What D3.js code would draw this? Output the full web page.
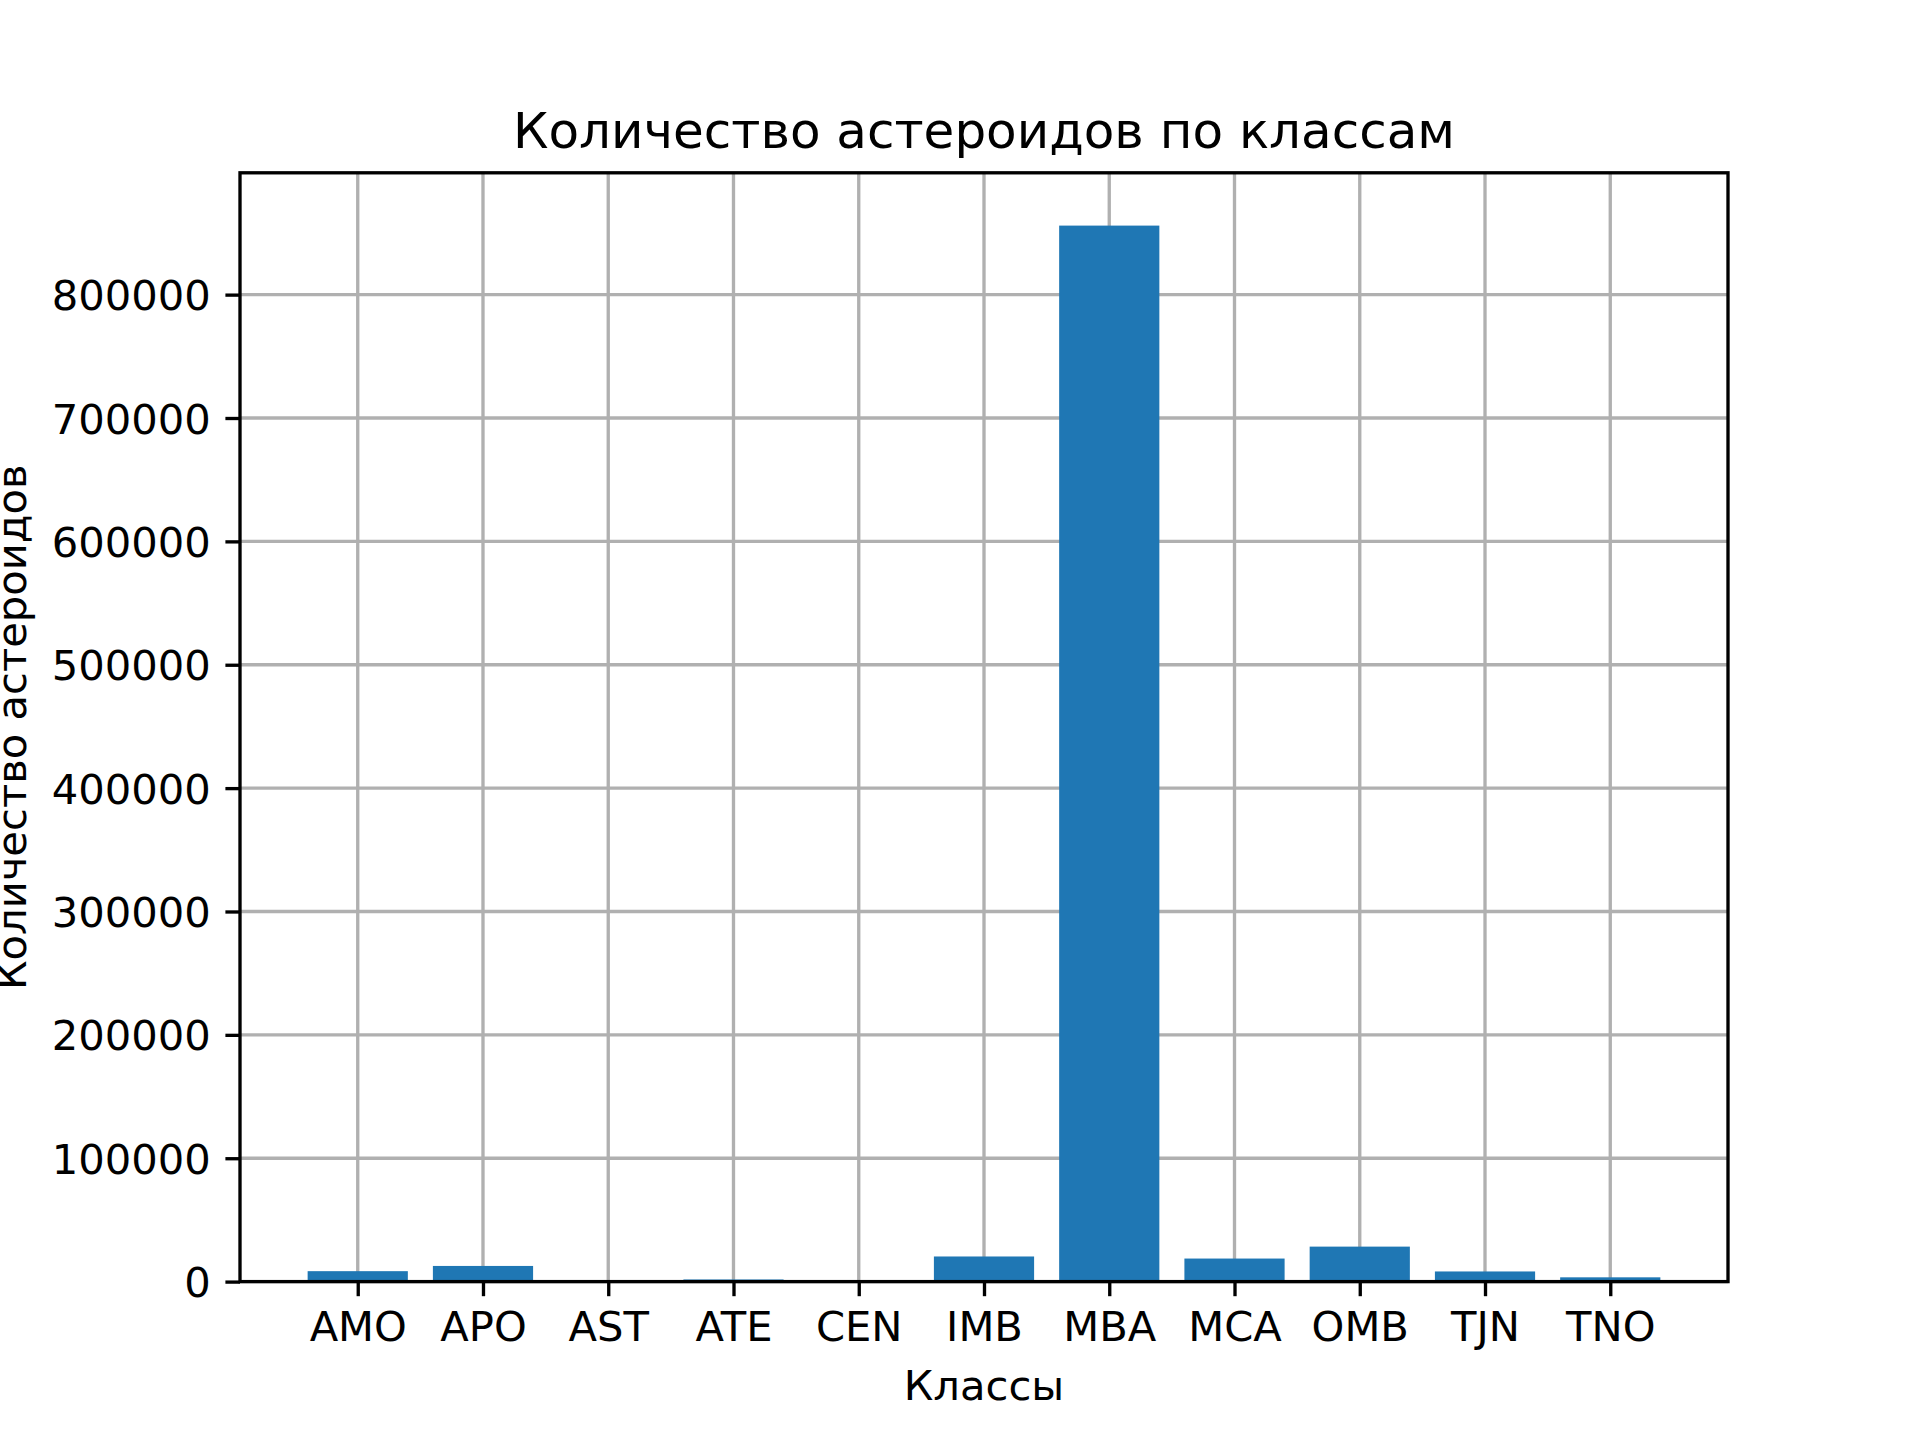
<!DOCTYPE html>
<html>
<head>
<meta charset="utf-8">
<script src="https://cdn.jsdelivr.net/npm/d3@7"></script>
<style>
  html, body { margin: 0; padding: 0; background: #fff; }
  text { font-family: "DejaVu Sans", sans-serif; fill: #000; }
</style>
</head>
<body>
<svg id="chart" width="1920" height="1440"></svg>
<script>
const categories = ["AMO", "APO", "AST", "ATE", "CEN", "IMB", "MBA", "MCA", "OMB", "TJN", "TNO"];
const counts = [8457, 12687, 73, 1729, 503, 20360, 855954, 18685, 28355, 8221, 3468];
const yTicks = [0, 100000, 200000, 300000, 400000, 500000, 600000, 700000, 800000];
const titleText = "Количество астероидов по классам";
const xLabelText = "Классы";
const yLabelText = "Количество астероидов";

const W = 1920, H = 1440;
const plotLeft = 240, plotRight = 1728, plotTop = 172.8, plotBottom = 1281.6;
const fs = 41.67;
const lw = 3.33;
const tickLen = 14.6, tickPad = 14.6;

const svg = d3.select("#chart");
svg.append("rect").attr("width", W).attr("height", H).attr("fill", "#fff");

const idx = categories.map((d, i) => i);
const x = d3.scaleLinear().domain([-0.94, categories.length - 1 + 0.94]).range([plotLeft, plotRight]);
const yMax = d3.max(counts) * 1.05;
const y = d3.scaleLinear().domain([0, yMax]).range([plotBottom, plotTop]);

// grid
const grid = svg.append("g");
grid.selectAll("line.v").data(idx).enter().append("line")
  .attr("x1", d => x(d)).attr("x2", d => x(d))
  .attr("y1", plotTop).attr("y2", plotBottom)
  .attr("stroke", "#b0b0b0").attr("stroke-width", lw);
grid.selectAll("line.h").data(yTicks).enter().append("line")
  .attr("x1", plotLeft).attr("x2", plotRight)
  .attr("y1", d => y(d)).attr("y2", d => y(d))
  .attr("stroke", "#b0b0b0").attr("stroke-width", lw);

// bars
svg.append("g").selectAll("rect").data(counts).enter().append("rect")
  .attr("x", (d, i) => x(i - 0.4))
  .attr("width", (d, i) => x(i + 0.4) - x(i - 0.4))
  .attr("y", d => y(d))
  .attr("height", d => plotBottom - y(d))
  .attr("fill", "#1f77b4");

// x axis
const xAxis = d3.axisBottom(x).tickValues(idx).tickFormat(i => categories[i])
  .tickSizeInner(tickLen).tickSizeOuter(0).tickPadding(tickPad);
const gx = svg.append("g").attr("transform", `translate(0,${plotBottom})`).call(xAxis);
gx.select(".domain").remove();
gx.selectAll(".tick line").attr("stroke", "#000").attr("stroke-width", lw);
gx.selectAll(".tick text").attr("font-size", fs).attr("font-family", "DejaVu Sans")
  .attr("dy", null).attr("y", 1341.5 - plotBottom).attr("fill", "#000");

// y axis
const yAxis = d3.axisLeft(y).tickValues(yTicks).tickFormat(d3.format("d"))
  .tickSizeInner(tickLen).tickSizeOuter(0).tickPadding(tickPad);
const gy = svg.append("g").attr("transform", `translate(${plotLeft},0)`).call(yAxis);
gy.select(".domain").remove();
gy.selectAll(".tick line").attr("stroke", "#000").attr("stroke-width", lw);
gy.selectAll(".tick text").attr("font-size", fs).attr("font-family", "DejaVu Sans")
  .attr("dy", "0.36em").attr("fill", "#000");

// frame
svg.append("rect").attr("x", plotLeft).attr("y", plotTop)
  .attr("width", plotRight - plotLeft).attr("height", plotBottom - plotTop)
  .attr("fill", "none").attr("stroke", "#000").attr("stroke-width", lw)
  .attr("stroke-linejoin", "miter");

// title
svg.append("text").attr("x", (plotLeft + plotRight) / 2).attr("y", 148)
  .attr("text-anchor", "middle").attr("font-size", 50).text(titleText);

// x label
svg.append("text").attr("x", (plotLeft + plotRight) / 2).attr("y", 1400)
  .attr("text-anchor", "middle").attr("font-size", fs).text(xLabelText);

// y label
svg.append("text").attr("transform", `translate(26,${(plotTop + plotBottom) / 2}) rotate(-90)`)
  .attr("text-anchor", "middle").attr("font-size", fs).text(yLabelText);
</script>
</body>
</html>
